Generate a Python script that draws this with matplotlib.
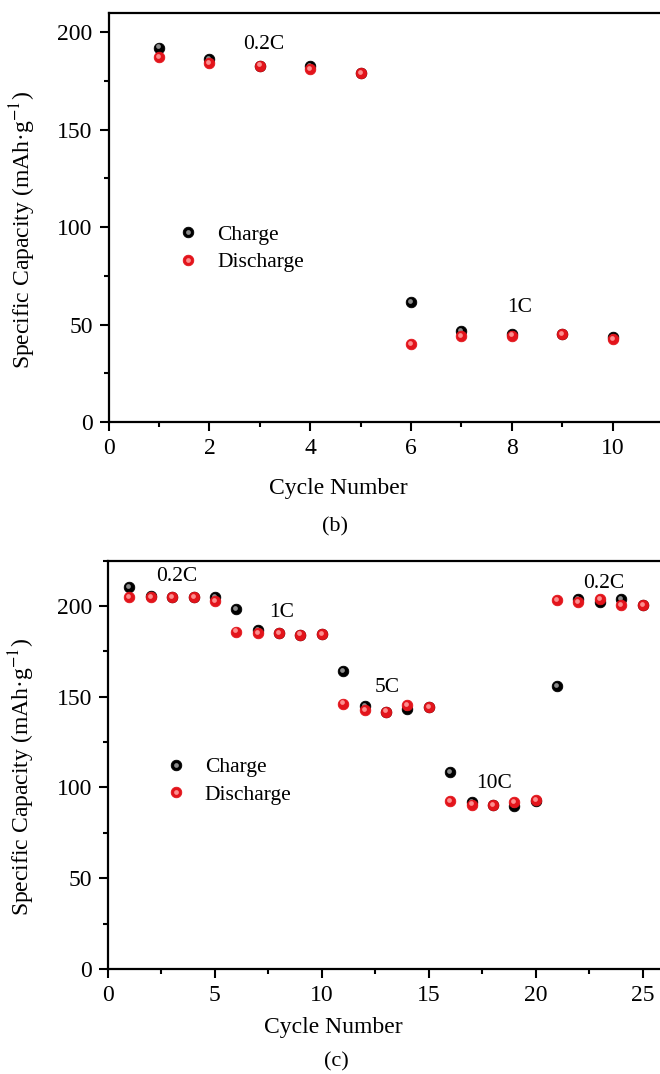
import matplotlib
matplotlib.use("Agg")
import matplotlib.pyplot as plt
import matplotlib.ticker as ticker
from matplotlib.transforms import offset_copy
from matplotlib.legend_handler import HandlerTuple

plt.rcParams['font.family'] = ['Liberation Serif', 'DejaVu Serif']
plt.rcParams['mathtext.fontset'] = 'stix'

# panel (b): rate test 0.2C -> 1C
cycles_b = [1, 2, 3, 4, 5, 6, 7, 8, 9, 10]
charge_b = [192.1, 186.2, 182.4, 182.4, 179.0, 61.5, 46.5, 45.0, 45.1, 43.4]
discharge_b = [187.2, 184.3, 182.8, 180.9, 179.0, 40.0, 43.9, 44.3, 45.1, 42.6]
rates_b = ["0.2C", "1C"]
rate_pos_b = [(3.07, 193.5), (8.15, 58.6)]

# panel (c): rate test 0.2C -> 1C -> 5C -> 10C -> 0.2C
cycles_c = list(range(1, 26))
charge_c = [210.6, 205.7, 204.9, 204.9, 205.1, 198.2, 186.6, 185.0, 184.2, 184.6,
            164.2, 144.8, 141.8, 143.1, 144.4, 108.4, 91.9, 90.3, 89.9, 92.5,
            155.8, 203.7, 202.0, 203.9, 200.6]
discharge_c = [204.8, 204.8, 204.8, 204.8, 202.9, 185.9, 185.0, 185.0, 184.2, 184.6,
               146.2, 142.6, 141.8, 145.5, 144.4, 92.5, 90.6, 90.3, 92.1, 93.2,
               203.3, 202.2, 203.7, 200.6, 200.6]
rates_c = ["0.2C", "1C", "5C", "10C", "0.2C"]
rate_pos_c = [(3.2, 216.0), (8.14, 196.3), (13.07, 155.2), (18.08, 102.4), (23.18, 212.5)]

ylabel = r"Specific Capacity (mAh·g$^{-1}$)"


def balls(ax, fig, x, y, base, light, ms=7.6):
    # fake 3D sphere: dark ball + small shifted highlight
    h1, = ax.plot(x, y, 'o', ms=ms, color=base, mec=base, mew=0.6, ls='none')
    tr = offset_copy(ax.transData, fig=fig, x=-1.0, y=1.2, units='dots')
    ax.plot(x, y, 'o', ms=ms * 0.45, color=light, mec='none', ls='none', alpha=0.9, transform=tr)
    h2, = ax.plot([], [], 'o', ms=ms * 0.45, color=light, mec='none', ls='none', alpha=0.9)
    return (h1, h2)


def style_axes(ax, xmax, ymax, xmajor, xminor):
    ax.set_xlim(0, xmax)
    ax.set_ylim(0, ymax)
    ax.xaxis.set_major_locator(ticker.MultipleLocator(xmajor))
    ax.xaxis.set_minor_locator(ticker.MultipleLocator(xminor))
    ax.yaxis.set_major_locator(ticker.MultipleLocator(50))
    ax.yaxis.set_minor_locator(ticker.MultipleLocator(25))
    for s in ax.spines.values():
        s.set_linewidth(1.6)
    ax.tick_params(which='both', direction='out', width=1.5, labelsize=17, pad=5)
    ax.tick_params(which='major', length=6.5)
    ax.tick_params(which='minor', length=3.6)


def add_legend(ax, handles, anchor):
    ax.legend(handles, ["Charge", "Discharge"],
              handler_map={tuple: HandlerTuple(ndivide=1, pad=0)},
              loc='center left', bbox_to_anchor=anchor, bbox_transform=ax.transData,
              frameon=False, fontsize=15.5, handlelength=1.0, handletextpad=0.85,
              labelspacing=0.34, borderpad=0, borderaxespad=0)


fig = plt.figure(figsize=(6.6, 10.74), dpi=100)

# ---- panel (b)
ax1 = fig.add_axes([0.1645, 0.6071, 0.8403, 0.3811])
style_axes(ax1, 11, 210, 2, 1)
hc = balls(ax1, fig, cycles_b, charge_b, '#000000', '#9c9c9c')
hd = balls(ax1, fig, cycles_b, discharge_b, '#e3141b', '#ff9c9c')
for lab, (tx, ty) in zip(rates_b, rate_pos_b):
    ax1.text(tx, ty, lab, fontsize=15.5, ha='center', va='center')
add_legend(ax1, [hc, hd], (1.36, 89.0))
ax1.set_xlabel("Cycle Number", fontsize=17)
ax1.set_ylabel(ylabel, fontsize=17)
ax1.xaxis.set_label_coords(0.415, -0.138)
ax1.yaxis.set_label_coords(-0.128, 0.47)

# ---- panel (c)
ax2 = fig.add_axes([0.1636, 0.0978, 0.8424, 0.3802])
style_axes(ax2, 26, 225, 5, 2.5)
hc = balls(ax2, fig, cycles_c, charge_c, '#000000', '#9c9c9c')
hd = balls(ax2, fig, cycles_c, discharge_c, '#e3141b', '#ff9c9c')
for lab, (tx, ty) in zip(rates_c, rate_pos_c):
    ax2.text(tx, ty, lab, fontsize=15.5, ha='center', va='center')
add_legend(ax2, [hc, hd], (2.66, 103.5))
ax2.set_xlabel("Cycle Number", fontsize=17)
ax2.set_ylabel(ylabel, fontsize=17)
ax2.xaxis.set_label_coords(0.405, -0.118)
ax2.yaxis.set_label_coords(-0.128, 0.47)

fig.text(335 / 660, 1 - 526.7 / 1074, "(b)", fontsize=16, ha='center', va='center')
fig.text(336 / 660, 1 - 1062 / 1074, "(c)", fontsize=16, ha='center', va='center')

fig.savefig("out.png", dpi=100)
